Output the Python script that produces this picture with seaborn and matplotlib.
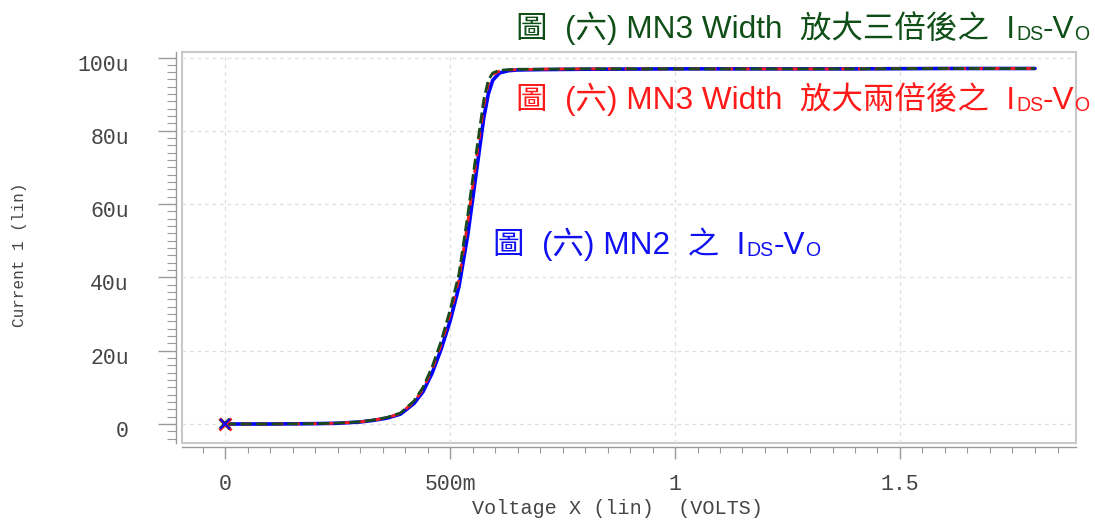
import matplotlib
matplotlib.use("Agg")
import matplotlib.pyplot as plt
import matplotlib.transforms as mtransforms
from matplotlib.ticker import MultipleLocator, FixedLocator, FixedFormatter
import seaborn as sns

# Sweep voltage (V) and drain currents (uA) of the three simulated devices
volts = [0.0, 0.1, 0.2, 0.25, 0.3, 0.33, 0.36, 0.39, 0.42, 0.44, 0.46, 0.48,
         0.50, 0.52, 0.54, 0.56, 0.575, 0.585, 0.595, 0.61, 0.63, 0.65, 0.7,
         0.8, 1.0, 1.2, 1.4, 1.6, 1.8]
i_mn2 = [0.0, 0.0, 0.1, 0.2, 0.55, 1.0, 1.6, 2.7, 5.6, 8.8, 13.8, 20.3,
         28.0, 37.5, 52.0, 70.0, 83.5, 90.0, 93.8, 95.8, 96.4, 96.6, 96.7,
         96.8, 96.9, 96.9, 96.9, 97.0, 97.0]
i_mn3_x2 = [0.0, 0.0, 0.1, 0.22, 0.58, 1.05, 1.7, 2.9, 6.0, 9.5, 14.8, 21.6,
            29.8, 39.5, 55.5, 73.5, 86.8, 92.8, 95.4, 96.3, 96.6, 96.7, 96.8,
            96.9, 96.9, 96.9, 96.9, 97.0, 97.0]
i_mn3_x3 = [0.0, 0.0, 0.1, 0.25, 0.6, 1.1, 1.8, 3.0, 6.3, 10.0, 15.5, 22.5,
            31.0, 41.0, 57.5, 75.5, 88.4, 93.8, 95.8, 96.5, 96.7, 96.8, 96.8,
            96.9, 96.9, 96.9, 96.9, 97.0, 97.0]

x_ticks = [0.0, 0.5, 1.0, 1.5]
x_tick_labels = ["0", "500m", "1", "1.5"]
y_ticks = [0, 20, 40, 60, 80, 100]
y_tick_labels = ["0", "20u", "40u", "60u", "80u", "100u"]

BLUE = "#0000ff"
RED = "#ff1a1a"
GREEN_LINE = "#1b4a1b"
GREEN_TEXT = "#0f4f17"
GREY_TXT = "#454545"
RULER = "#9a9a9a"

sns.set_style("white")
plt.rcParams["font.family"] = ["Liberation Sans", "Noto Sans CJK TC", "DejaVu Sans"]

fig = plt.figure(figsize=(10.95, 5.2), dpi=100)
ax = fig.add_axes([182 / 1095, 1 - 443 / 520, (1076 - 182) / 1095, (443 - 52) / 520])

# curves
sns.lineplot(x=volts, y=i_mn2, ax=ax, color=BLUE, lw=2.6, zorder=3)
sns.lineplot(x=volts, y=i_mn3_x2, ax=ax, color=RED, lw=2.0, zorder=4,
             linestyle=(0, (3, 3)))
sns.lineplot(x=volts, y=i_mn3_x3, ax=ax, color=GREEN_LINE, lw=2.0, zorder=5,
             linestyle=(0, (4, 1.6)))

# start-point markers
for col, ys, ms, mew in ((GREEN_LINE, i_mn3_x3, 7, 2.6), (RED, i_mn3_x2, 9, 2.0),
                         (BLUE, i_mn2, 7, 1.4)):
    ax.plot(volts[:1], ys[:1], marker="x", ms=ms, mew=mew, color=col,
            ls="none", zorder=6, clip_on=False)

ax.set_xlim(-43 / 450, 851 / 450)
ax.set_ylim(-19 / 3.665, 372 / 3.665)

# box
for s in ("top", "right"):
    ax.spines[s].set_visible(False)
ax.patch.set_edgecolor("#c8c8c8")
ax.patch.set_linewidth(1.5)

# rulers
ax.spines["left"].set_position(("outward", 4.3))
ax.spines["bottom"].set_position(("outward", 3))
for s in ("left", "bottom"):
    ax.spines[s].set_color(RULER)
    ax.spines[s].set_linewidth(1.0)

ax.xaxis.set_major_locator(FixedLocator(x_ticks))
ax.xaxis.set_major_formatter(FixedFormatter(x_tick_labels))
ax.xaxis.set_minor_locator(MultipleLocator(0.05))
ax.yaxis.set_major_locator(FixedLocator(y_ticks))
ax.yaxis.set_major_formatter(FixedFormatter(y_tick_labels))
ax.yaxis.set_minor_locator(MultipleLocator(2))

ax.tick_params(axis="y", which="major", direction="out", length=13, width=1,
               color=RULER, pad=21, labelsize=15.5, labelcolor=GREY_TXT, left=True)
ax.tick_params(axis="y", which="minor", direction="out", length=6.5, width=0.8,
               color=RULER, left=True)
ax.tick_params(axis="x", which="major", direction="out", length=8.6, width=1,
               color=RULER, pad=11, labelsize=15.5, labelcolor=GREY_TXT, bottom=True)
ax.tick_params(axis="x", which="minor", direction="out", length=4.3, width=0.8,
               color=RULER, bottom=True)
for lab in ax.get_xticklabels() + ax.get_yticklabels():
    lab.set_family(["Liberation Mono", "DejaVu Sans Mono"])
shift = mtransforms.ScaledTranslation(0, -5 / 100, fig.dpi_scale_trans)
for lab in ax.get_yticklabels():
    lab.set_transform(lab.get_transform() + shift)

ax.grid(True, which="major", color="#dedede", lw=0.9, ls=(0, (3, 3)))
ax.set_axisbelow(True)

# axis titles
mono = ["Liberation Mono", "DejaVu Sans Mono"]
fig.text(617 / 1095, 1 - 508 / 520, "Voltage X (lin)  (VOLTS)", family=mono,
         fontsize=14.5, color=GREY_TXT, ha="center", va="center")
fig.text(20 / 1095, 1 - 255 / 520, "Current 1 (lin)", family=mono,
         fontsize=11.5, color=GREY_TXT, ha="center", va="center", rotation=90)


def caption(x_px, base_px, head, color, size=22.7):
    """Caption ending in I_DS-V_O, built from chained text pieces."""
    fam = ["Liberation Sans", "Noto Sans CJK TC", "DejaVu Sans"]
    small = size * 0.62
    dy = -1.0 + 0.21 * size - 0.21 * small
    t = fig.text(x_px / 1095, 1 - base_px / 520, head + "I", family=fam,
                 fontsize=size, color=color, ha="left", va="baseline")
    t2 = ax.annotate("DS", xy=(1, 0), xycoords=t, xytext=(0.6, dy),
                     textcoords="offset points", va="bottom", ha="left",
                     family=fam, fontsize=small, color=color)
    t3 = ax.annotate("-V", xy=(1, 0), xycoords=t2, xytext=(0, -dy),
                     textcoords="offset points", va="bottom", ha="left",
                     family=fam, fontsize=size, color=color)
    ax.annotate("O", xy=(1, 0), xycoords=t3, xytext=(0, dy),
                textcoords="offset points", va="bottom", ha="left",
                family=fam, fontsize=small, color=color)


caption(516, 38, "圖  (六) MN3 Width  放大三倍後之  ", GREEN_TEXT)
caption(516, 109, "圖  (六) MN3 Width  放大兩倍後之  ", RED)
caption(493, 254, "圖  (六) MN2  之  ", "#1010f0")

fig.savefig("out.png", dpi=100)
